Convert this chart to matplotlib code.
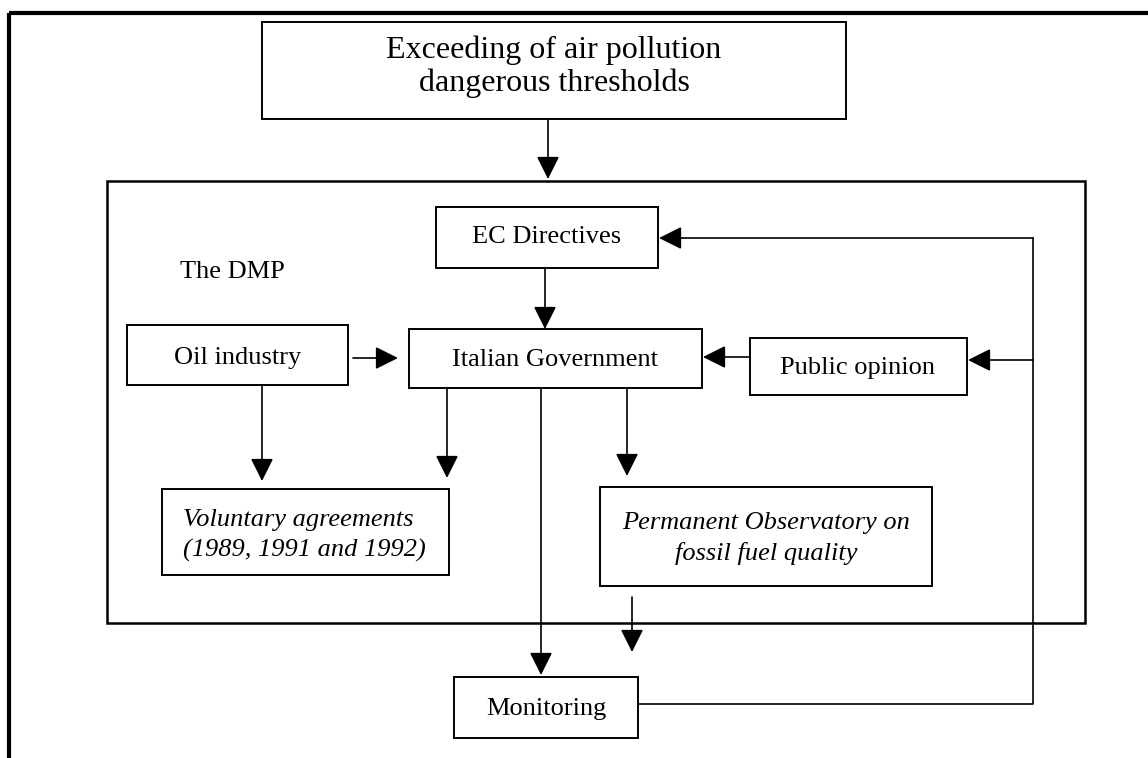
import matplotlib.pyplot as plt
from matplotlib.patches import Rectangle

# diagram content
box_names = ["top", "ec", "oil", "gov", "public", "vol", "obs", "mon"]
box_labels = [
    ["Exceeding of air pollution", "dangerous thresholds"],
    ["EC Directives"],
    ["Oil industry"],
    ["Italian Government"],
    ["Public opinion"],
    ["Voluntary agreements", "(1989, 1991 and 1992)"],
    ["Permanent Observatory on", "fossil fuel quality"],
    ["Monitoring"],
]
italic_boxes = ["vol", "obs"]
frame_label = "The DMP"

# layout (pixels, y down): x0, y0, x1, y1
box_xy = {
    "top": (262, 22, 846, 119),
    "ec": (436, 207, 658, 268),
    "oil": (127, 325, 348, 385),
    "gov": (409, 329, 702, 388),
    "public": (750, 338, 967, 395),
    "vol": (162, 489, 449, 575),
    "obs": (600, 487, 932, 586),
    "mon": (454, 677, 638, 738),
}
# text anchor x, baselines, alignment, size
text_pos = {
    "top": (554, [58, 91], "center", 23),
    "ec": (547, [243], "center", 19),
    "oil": (238, [364], "center", 19),
    "gov": (555, [366], "center", 19),
    "public": (858, [374], "center", 19),
    "vol": (183, [526, 557], "left", 19),
    "obs": (766, [529, 560], "center", 19),
    "mon": (546, [715], "center", 19),
}

arrows = [
    ((548, 119), (548, 179)),
    ((545, 268), (545, 329)),
    ((353, 358), (398, 358)),
    ((750, 357), (703, 357)),
    ((262, 385), (262, 481)),
    ((447, 388), (447, 478)),
    ((541, 388), (541, 675)),
    ((627, 388), (627, 476)),
    ((632, 597), (632, 652)),
    ((1033, 238), (659, 238)),
    ((1033, 360), (968, 360)),
]
feedback_x = [638, 1033, 1033]
feedback_y = [704, 704, 238]

plt.rcParams['font.family'] = ['Liberation Serif', 'DejaVu Serif']

fig = plt.figure(figsize=(11.48, 7.58), dpi=100)
ax = fig.add_axes([0, 0, 1, 1])
ax.set_xlim(0, 1148)
ax.set_ylim(758, 0)
ax.axis('off')

# outer page frame (only top and left visible)
ax.plot([9, 1148], [13, 13], color='black', lw=3, solid_capstyle='butt')
ax.plot([9, 9], [13, 758], color='black', lw=3, solid_capstyle='butt')

# DMP frame
ax.add_patch(Rectangle((107, 181), 1085 - 107, 623 - 181, fill=False, lw=1.8, ec='black'))
ax.text(180, 278, frame_label, fontsize=19, ha='left', va='baseline')

for name, lines in zip(box_names, box_labels):
    x0, y0, x1, y1 = box_xy[name]
    ax.add_patch(Rectangle((x0, y0), x1 - x0, y1 - y0, fill=False, lw=1.4, ec='black'))
    tx, bases, ha, fs = text_pos[name]
    style = 'italic' if name in italic_boxes else 'normal'
    for line, b in zip(lines, bases):
        ax.text(tx, b, line, fontsize=fs, ha=ha, va='baseline', style=style)

ax.plot(feedback_x, feedback_y, color='black', lw=1.2)

for start, end in arrows:
    ax.annotate('', xy=end, xytext=start,
                arrowprops=dict(arrowstyle='-|>,head_length=0.7,head_width=0.35',
                                mutation_scale=20, lw=1.2, color='black',
                                shrinkA=0, shrinkB=0))

fig.savefig('out.png', dpi=100)
